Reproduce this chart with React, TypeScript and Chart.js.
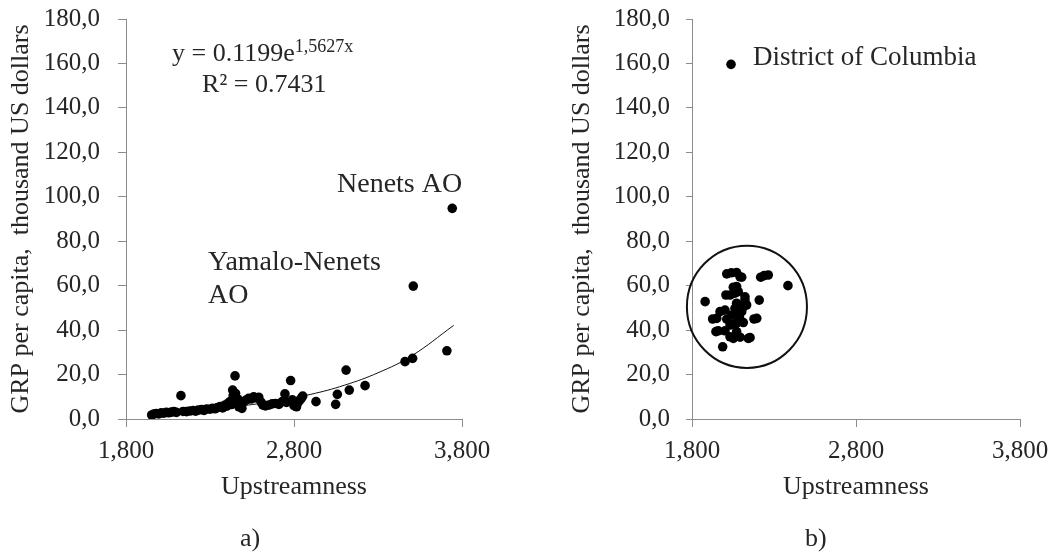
import React, { useEffect, useRef } from "react";
import { Chart, registerables } from "chart.js";

Chart.register(...registerables);

// ---------- data ----------
const xTickValues = [1800, 2800, 3800];
const yTickValues = [0, 20, 40, 60, 80, 100, 120, 140, 160, 180];

// a) Russian regions
const ruUpstream = [
  1953, 1965, 1980, 1995, 2010, 2025, 2040, 2055, 2070, 2085, 2100, 2127, 2140, 2160, 2180,
  2200, 2215, 2230, 2250, 2265, 2280, 2300, 2315, 2330, 2345, 2360, 2375, 2390, 2400, 2410,
  2420, 2428, 2435, 2438, 2442, 2449, 2452, 2458, 2465, 2472, 2480, 2490, 2500, 2515, 2530,
  2545, 2560, 2575, 2590, 2605, 2615, 2630, 2650, 2670, 2690, 2710, 2730, 2746, 2755, 2780,
  2790, 2800, 2815, 2825, 2836, 2845, 2852, 2931, 3048, 3058, 3110, 3129, 3223, 3461, 3506,
  3510, 3710, 3742,
];
const ruGRP = [
  1.8, 2.2, 2.5, 2.3, 2.8, 2.6, 3.0, 2.8, 3.1, 3.3, 3.0, 10.5, 3.4, 3.3, 3.6,
  3.8, 3.5, 4.0, 4.2, 3.9, 4.5, 4.4, 4.8, 4.6, 5.2, 5.6, 5.0, 6.3, 5.8, 7.2,
  7.9, 6.5, 13.0, 10.5, 8.8, 19.4, 11.5, 7.0, 9.0, 5.5, 6.3, 4.8, 7.8, 8.5, 9.3,
  9.0, 10.0, 9.5, 9.8, 7.5, 6.3, 5.9, 6.3, 6.8, 7.0, 6.6, 7.8, 11.3, 7.5, 17.3,
  8.6, 6.0, 5.5, 7.5, 8.6, 9.5, 10.3, 7.8, 6.6, 11.1, 22.0, 13.0, 15.0, 25.8, 27.3,
  59.8, 30.7, 94.8,
];

// exponential trend line
const trendUpstream = [1950, 2100, 2300, 2500, 2700, 2900, 3100, 3300, 3500, 3750];
const trendGRP = [2.4, 3.2, 4.4, 6.0, 8.2, 11.1, 15.2, 20.8, 28.4, 42.1];

// b) US states
const usUpstream = [
  2038, 2012, 2040, 2072, 2093, 2103, 2219, 2240, 2265, 2385, 1880, 2007, 2032, 2052, 2072,
  2062, 2082, 2123, 2123, 2210, 2133, 2072, 2113, 2062, 2001, 1971, 2103, 2076, 2042, 2089,
  1926, 1951, 2012, 2093, 2178, 2195, 2056, 2113, 2072, 2032, 1946, 1960, 2001, 2072, 2032,
  2052, 2093, 2143, 2154, 1987,
];
const usGRP = [
  159.6, 65.3, 65.8, 65.9, 64.0, 63.8, 63.8, 64.5, 64.8, 60.0, 52.8, 55.8, 55.8, 59.3, 59.6,
  56.6, 57.3, 55.0, 53.5, 53.5, 51.3, 52.1, 50.5, 49.8, 49.0, 48.3, 48.3, 47.5, 46.8, 46.0,
  45.0, 45.3, 44.9, 44.6, 45.0, 45.3, 42.8, 43.4, 43.1, 42.3, 39.3, 39.7, 39.7, 39.3, 37.0,
  36.3, 36.8, 36.3, 36.6, 32.5,
];

// ---------- styling ----------
const FONT = '"Liberation Serif", "Times New Roman", serif';
const TEXT = "#262626";
const AXIS = "#8c8c8c";

const fmtY = (v: number) => v.toFixed(1).replace(".", ",");
const fmtX = (v: number) => String(v).replace(/\B(?=(\d{3})+(?!\d))/g, ",");

type Cfg = {
  yWidth: number;
  xHeight: number;
  padRight: number;
  yTitlePad: number;
  yTickPad: number;
  yTickLen: number;
  annotate: (chart: any) => void;
};

function buildOptions(cfg: Cfg): any {
  return {
    responsive: true,
    maintainAspectRatio: false,
    animation: false,
    devicePixelRatio: 1,
    layout: { padding: { left: 0, top: 19, right: cfg.padRight, bottom: 553 - 419 - cfg.xHeight } },
    plugins: { legend: { display: false }, tooltip: { enabled: false } },
    scales: {
      x: {
        type: "linear",
        position: "bottom",
        min: 1800,
        max: 3800,
        afterBuildTicks: (s: any) => {
          s.ticks = xTickValues.map((v) => ({ value: v }));
        },
        afterFit: (s: any) => {
          s.height = cfg.xHeight;
          s.paddingLeft = 0;
          s.paddingRight = 0;
          s.paddingTop = 0;
          s.paddingBottom = 0;
        },
        ticks: {
          callback: (v: number) => fmtX(v),
          color: TEXT,
          font: { family: FONT, size: 25 },
          padding: 9,
          maxRotation: 0,
        },
        grid: { display: true, drawOnChartArea: false, drawTicks: true, tickLength: 8, color: AXIS, lineWidth: 1 },
        border: { display: true, color: AXIS, width: 1 },
        title: {
          display: true,
          text: "Upstreamness",
          color: TEXT,
          font: { family: FONT, size: 26 },
          padding: { top: 0, bottom: 0 },
        },
      },
      y: {
        type: "linear",
        min: 0,
        max: 180,
        afterBuildTicks: (s: any) => {
          s.ticks = yTickValues.map((v) => ({ value: v }));
        },
        afterFit: (s: any) => {
          s.width = cfg.yWidth;
          s.paddingLeft = 0;
          s.paddingRight = 0;
          s.paddingTop = 0;
          s.paddingBottom = 0;
        },
        ticks: {
          callback: (v: number) => fmtY(v),
          color: TEXT,
          font: { family: FONT, size: 25 },
          padding: cfg.yTickPad,
        },
        grid: { display: true, drawOnChartArea: false, drawTicks: true, tickLength: cfg.yTickLen, color: AXIS, lineWidth: 1 },
        border: { display: true, color: AXIS, width: 1 },
        title: {
          display: true,
          text: "GRP per capita,  thousand US dollars",
          color: TEXT,
          font: { family: FONT, size: 26 },
          padding: { top: cfg.yTitlePad, bottom: 0 },
        },
      },
    },
  };
}

function annotateA(chart: any) {
  const { ctx, scales } = chart;
  const x = scales.x;
  const y = scales.y;
  ctx.save();
  ctx.fillStyle = TEXT;
  ctx.textBaseline = "alphabetic";
  ctx.textAlign = "left";
  // equation
  ctx.font = `26px ${FONT}`;
  const eq = "y = 0.1199e";
  const ex = x.getPixelForValue(2074);
  const ey = y.getPixelForValue(160.9);
  ctx.fillText(eq, ex, ey);
  const w = ctx.measureText(eq).width;
  ctx.font = `18px ${FONT}`;
  ctx.fillText("1,5627x", ex + w, ey - 9);
  ctx.font = `26px ${FONT}`;
  ctx.fillText("R\u00B2 = 0.7431", x.getPixelForValue(2253), y.getPixelForValue(147.3));
  // labels
  ctx.font = `28px ${FONT}`;
  ctx.fillText("Nenets AO", x.getPixelForValue(3056), y.getPixelForValue(102.2));
  ctx.fillText("Yamalo-Nenets", x.getPixelForValue(2288), y.getPixelForValue(67.2));
  ctx.fillText("AO", x.getPixelForValue(2288), y.getPixelForValue(52.4));
  // panel label
  ctx.font = `26px ${FONT}`;
  ctx.fillText("a)", 240, 546);
  ctx.restore();
}

function annotateB(chart: any) {
  const { ctx, scales } = chart;
  const x = scales.x;
  const y = scales.y;
  ctx.save();
  ctx.fillStyle = TEXT;
  ctx.textBaseline = "alphabetic";
  ctx.textAlign = "left";
  ctx.font = `27px ${FONT}`;
  ctx.fillText("District of Columbia", x.getPixelForValue(2172), y.getPixelForValue(159.3));
  // circle around the states
  const cx = x.getPixelForValue(2135);
  const cy = y.getPixelForValue(50.5);
  const rx = Math.abs(x.getPixelForValue(2135 + 366) - cx);
  const ry = Math.abs(y.getPixelForValue(50.5 + 27.5) - cy);
  ctx.beginPath();
  ctx.ellipse(cx, cy, rx, ry, 0, 0, Math.PI * 2);
  ctx.strokeStyle = "#111";
  ctx.lineWidth = 2;
  ctx.stroke();
  ctx.fillStyle = TEXT;
  ctx.font = `26px ${FONT}`;
  ctx.fillText("b)", 805 - 530, 546);
  ctx.restore();
}

function ChartPanel(props: { left: number; datasets: any[]; cfg: Cfg }) {
  const ref = useRef<HTMLCanvasElement | null>(null);
  useEffect(() => {
    if (!ref.current) return;
    const cfg = props.cfg;
    const chart = new Chart(ref.current, {
      type: "scatter",
      data: { datasets: props.datasets },
      options: buildOptions(cfg),
      plugins: [{ id: "annot", afterDraw: (c: any) => cfg.annotate(c) }],
    } as any);
    return () => chart.destroy();
  }, []);
  return (
    <div style={{ position: "absolute", left: props.left, top: 0, width: 530, height: 553 }}>
      <canvas ref={ref} />
    </div>
  );
}

export default function App() {
  const dsA = [
    {
      label: "Russian regions",
      data: ruUpstream.map((v, i) => ({ x: v, y: ruGRP[i] })),
      backgroundColor: "#000",
      borderWidth: 0,
      pointRadius: 4.8,
    },
    {
      label: "Trend",
      data: trendUpstream.map((v, i) => ({ x: v, y: trendGRP[i] })),
      showLine: true,
      borderColor: "#111",
      borderWidth: 1,
      pointRadius: 0,
      tension: 0.4,
      fill: false,
    },
  ];
  const dsB = [
    {
      label: "US states",
      data: usUpstream.map((v, i) => ({ x: v, y: usGRP[i] })),
      backgroundColor: "#000",
      borderWidth: 0,
      pointRadius: 4.8,
    },
  ];
  const cfgA: Cfg = { yWidth: 126, xHeight: 84, padRight: 68, yTitlePad: 6, yTickPad: 18, yTickLen: 8, annotate: annotateA };
  const cfgB: Cfg = { yWidth: 162, xHeight: 84, padRight: 40, yTitlePad: 37, yTickPad: 16, yTickLen: 6, annotate: annotateB };
  return (
    <div style={{ position: "absolute", left: 0, top: 0, width: 1060, height: 553, background: "#fff" }}>
      <ChartPanel left={0} datasets={dsA} cfg={cfgA} />
      <ChartPanel left={530} datasets={dsB} cfg={cfgB} />
    </div>
  );
}
